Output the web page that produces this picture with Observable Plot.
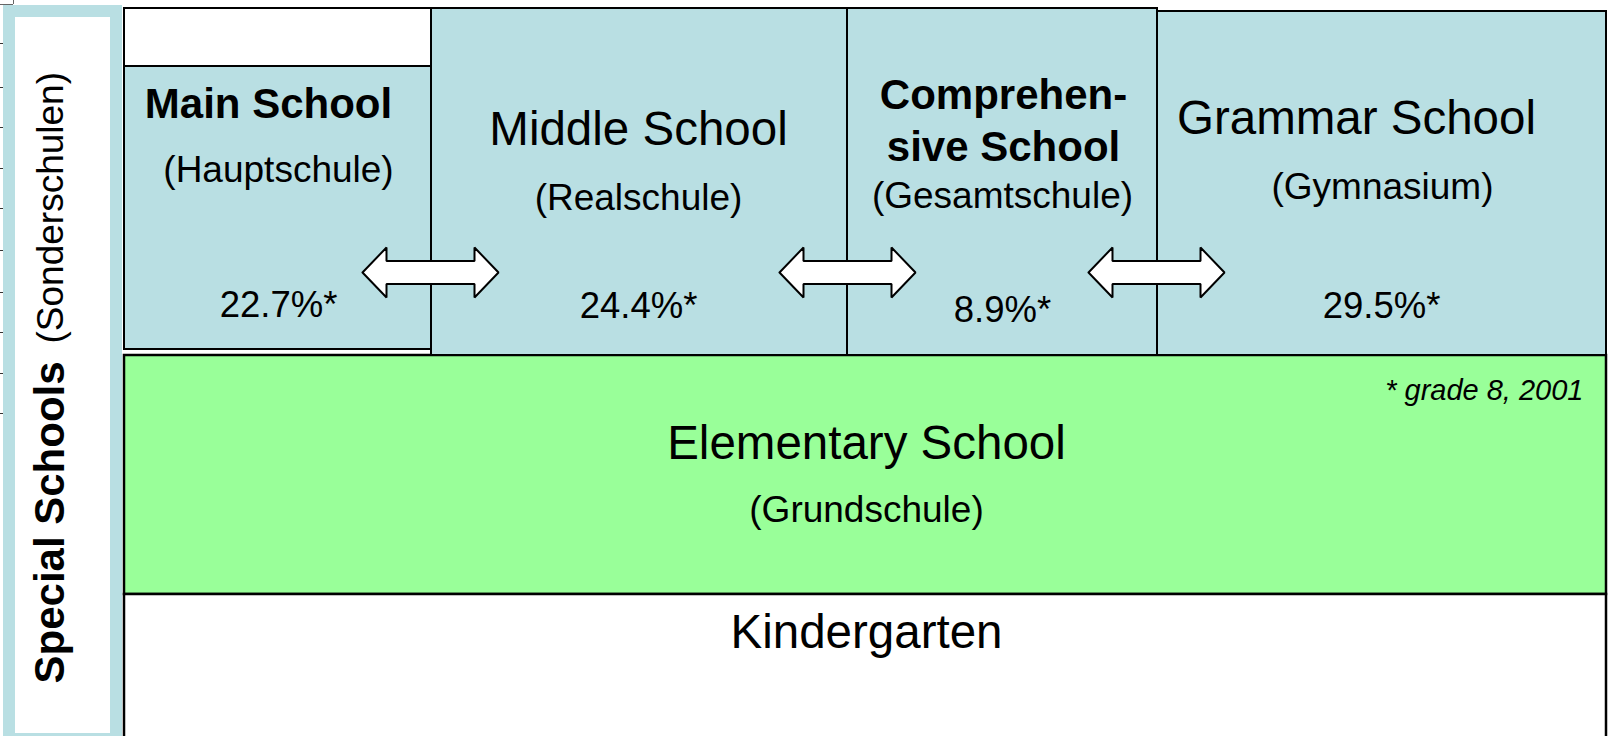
<!DOCTYPE html>
<html>
<head>
<meta charset="utf-8">
<script src="https://cdn.jsdelivr.net/npm/d3@7"></script>
<script src="https://cdn.jsdelivr.net/npm/@observablehq/plot@0.6"></script>
<style>
  html, body { margin: 0; padding: 0; background: #fff; }
  svg { display: block; }
</style>
</head>
<body>
<div id="chart"></div>
<script>
// ---- chart content ----
const schoolNames = ["Main School", "Middle School", "Comprehensive School", "Grammar School"];
const schoolTitleLines = [["Main School"], ["Middle School"], ["Comprehen-", "sive School"], ["Grammar School"]];
const schoolGerman = ["(Hauptschule)", "(Realschule)", "(Gesamtschule)", "(Gymnasium)"];
const schoolShare = [22.7, 24.4, 8.9, 29.5];
const titleBold = [true, false, true, false];
const footnote = "* grade 8, 2001";
const baseLevels = ["Elementary School", "Kindergarten"];
const baseGerman = ["(Grundschule)", ""];
const sideLabel = ["Special Schools", "(Sonderschulen)"];

// ---- diagram layout (diagram units = pixels of the 1610x736 frame) ----
const schoolX1 = [124, 431, 847, 1157];
const schoolX2 = [431, 847, 1157, 1606];
const schoolY1 = [66, 8, 8, 11];
const schoolY2 = [349, 355, 355, 355];
const titleX = [268, 638, 1003, 1356];
const titleSize = [42, 47.5, 42, 47.5];
const germanX = [278, 638, 1002, 1382];
const shareX = [278, 638, 1002, 1381];
const titleBaselines = [[117], [144], [108, 160], [133]];
const germanBaseline = [181, 209, 207, 198];
const shareBaseline = [316, 317, 321, 317];
const baseY1 = [355, 594];
const baseY2 = [594, 745];
const baseTextBaseline = [[458, 521], [647, null]];
const arrowCenters = [430, 847, 1156];
const arrowY = 272;
const leftTicks = [43, 87, 127, 168, 208, 250, 292, 332, 373, 413];

const BLUE = "#b9dfe3";
const GREEN = "#99ff99";
const FONT = "Liberation Sans, Arial, Helvetica, sans-serif";

// boxes
const schoolBoxes = schoolNames.map((n, i) => ({name: n, x1: schoolX1[i], x2: schoolX2[i], y1: schoolY1[i], y2: schoolY2[i]}));
const baseBoxes = baseLevels.map((n, i) => ({name: n, x1: 124, x2: 1606, y1: baseY1[i], y2: baseY2[i], fill: i === 0 ? GREEN : "white"}));
const mainTopBox = [{x1: 124, x2: 431, y1: 8, y2: 66}];

// texts
const titleTexts = [];
schoolTitleLines.forEach((lines, i) => lines.forEach((t, j) => titleTexts.push({t, x: titleX[i], y: titleBaselines[i][j], bold: titleBold[i], size: titleSize[i]})));
const germanTexts = schoolGerman.map((t, i) => ({t, x: germanX[i], y: germanBaseline[i]}));
const shareTexts = schoolShare.map((v, i) => ({t: v.toFixed(1) + "%*", x: shareX[i], y: shareBaseline[i]}));
const baseTexts = [];
baseLevels.forEach((t, i) => {
  baseTexts.push({t, x: 866, y: baseTextBaseline[i][0], size: 47.5});
  if (baseGerman[i]) baseTexts.push({t: baseGerman[i], x: 866, y: baseTextBaseline[i][1], size: 37});
});

// double-headed block arrows
const HALF = 68, HEAD = 24, HH = 25, SH = 11.5;
const arrowPts = [];
arrowCenters.forEach((cx, k) => {
  const l = cx - HALF, r = cx + HALF, y = arrowY;
  const pts = [
    [l, y], [l + HEAD, y - HH], [l + HEAD, y - SH], [r - HEAD, y - SH], [r - HEAD, y - HH],
    [r, y], [r - HEAD, y + HH], [r - HEAD, y + SH], [l + HEAD, y + SH], [l + HEAD, y + HH], [l, y]
  ];
  pts.forEach(([x, yy]) => arrowPts.push({k, x, y: yy}));
});

const chart = Plot.plot({
  width: 1610,
  height: 736,
  margin: 0,
  style: {fontFamily: FONT, background: "white"},
  x: {domain: [0, 1610], range: [0, 1610], axis: null},
  y: {domain: [0, 736], range: [0, 736], axis: null},
  marks: [
    // left ruler remnants
    Plot.ruleY(leftTicks, {x1: 0, x2: 3, y: d => d, stroke: "#333", strokeWidth: 1}),
    Plot.ruleY([4], {x1: 0, x2: 13, stroke: "#666", strokeWidth: 1}),
    Plot.ruleX([13], {y1: 0, y2: 4, stroke: "#666", strokeWidth: 1}),
    // special schools frame
    Plot.rect([{x1: 9, x2: 116, y1: 11, y2: 739}], {x1: "x1", x2: "x2", y1: "y1", y2: "y2", fill: "white", stroke: BLUE, strokeWidth: 12}),
    // base levels
    Plot.rect(baseBoxes, {x1: "x1", x2: "x2", y1: "y1", y2: "y2", fill: "fill", stroke: "black", strokeWidth: 2.5}),
    // school boxes
    Plot.rect(mainTopBox, {x1: "x1", x2: "x2", y1: "y1", y2: "y2", fill: "white", stroke: "black", strokeWidth: 2}),
    Plot.rect(schoolBoxes, {x1: "x1", x2: "x2", y1: "y1", y2: "y2", fill: BLUE, stroke: "black", strokeWidth: 2}),
    // arrows
    Plot.line(arrowPts, {x: "x", y: "y", z: "k", fill: "white", stroke: "black", strokeWidth: 2, strokeLinejoin: "miter", curve: "linear"}),
    // texts
    Plot.text(titleTexts.filter(d => d.bold), {x: "x", y: "y", text: "t", lineAnchor: "bottom", fontSize: d => d.size, fontWeight: "bold", fill: "black"}),
    Plot.text(titleTexts.filter(d => !d.bold), {x: "x", y: "y", text: "t", lineAnchor: "bottom", fontSize: d => d.size, fill: "black"}),
    Plot.text(germanTexts, {x: "x", y: "y", text: "t", lineAnchor: "bottom", fontSize: 37, fill: "black"}),
    Plot.text(shareTexts, {x: "x", y: "y", text: "t", lineAnchor: "bottom", fontSize: 36.5, fill: "black"}),
    Plot.text(baseTexts, {x: "x", y: "y", text: "t", lineAnchor: "bottom", fontSize: d => d.size, fill: "black"}),
    Plot.text([footnote], {x: 1583, y: 399, text: d => d, textAnchor: "end", lineAnchor: "bottom", fontSize: 29, fontStyle: "italic", fill: "black"}),
    // vertical side label
    Plot.text([sideLabel[0]], {x: 63, y: 683, text: d => d, rotate: -90, textAnchor: "start", lineAnchor: "bottom", fontSize: 42, fontWeight: "bold", fill: "black"}),
    Plot.text([sideLabel[1]], {x: 62, y: 343, text: d => d, rotate: -90, textAnchor: "start", lineAnchor: "bottom", fontSize: 37, fill: "black"})
  ]
});
document.getElementById("chart").appendChild(chart);
</script>
</body>
</html>
